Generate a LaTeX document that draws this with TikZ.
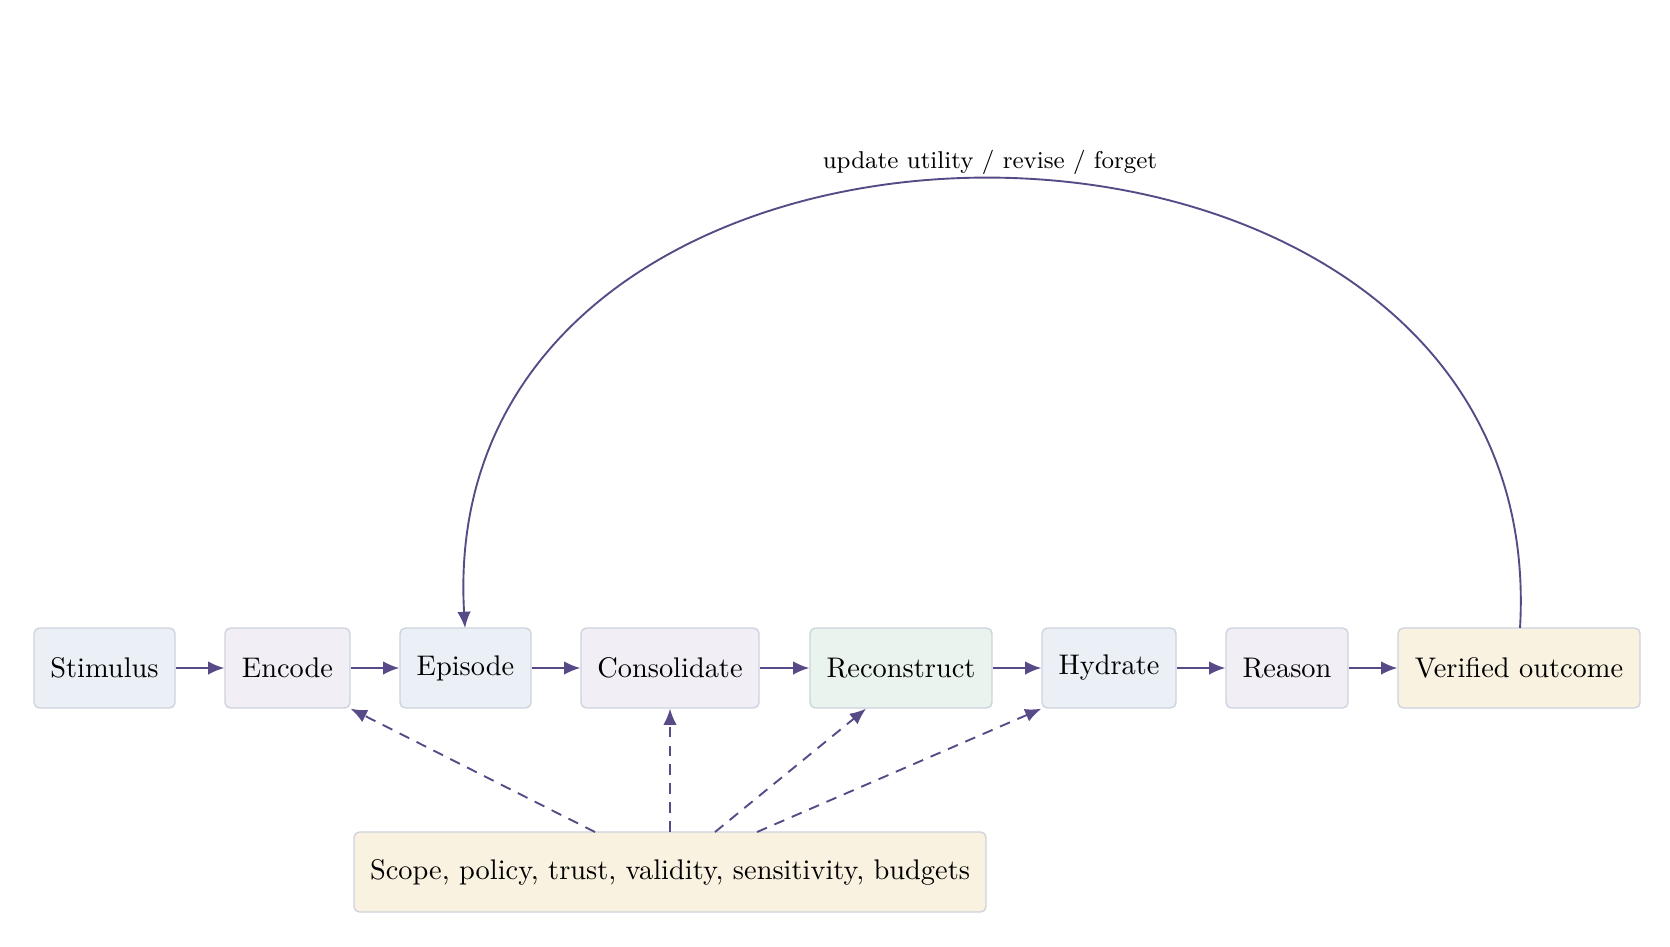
\documentclass[tikz,border=0pt]{standalone}
\usetikzlibrary{arrows.meta,calc}
\definecolor{cblue}{HTML}{EAF0F6}
\definecolor{clav}{HTML}{F1EEF6}
\definecolor{cgreen}{HTML}{EAF4EE}
\definecolor{ccream}{HTML}{FAF2E0}
\definecolor{cborder}{HTML}{CDD3DC}
\definecolor{carrow}{HTML}{574A86}
\begin{document}
\begin{tikzpicture}[x=0.37pt,y=-0.37pt,
  box/.style={draw=cborder,rounded corners=2pt,line width=0.5pt,minimum height=29.6pt,inner sep=0pt,font=\fontsize{10.5}{12}\selectfont},
  arr/.style={carrow,line width=0.7pt,-{Latex[length=6pt,width=5pt]}},
  darr/.style={arr,dash pattern=on 4pt off 3pt}]
\useasboundingbox (0,0) rectangle (1670,946);
\def\bx#1#2#3#4#5{\node[box,fill=#5,minimum width={(#3-#2)*0.37pt}] (#1) at ({(#2+#3)/2},668) {#4};}
\bx{s}{34}{175}{Stimulus}{cblue}
\bx{e}{225}{350}{Encode}{clav}
\bx{ep}{400}{531}{Episode}{cblue}
\bx{c}{581}{759}{Consolidate}{clav}
\bx{r}{810}{992}{Reconstruct}{cgreen}
\bx{h}{1042}{1176}{Hydrate}{cblue}
\bx{re}{1226}{1348}{Reason}{clav}
\bx{v}{1398}{1640}{Verified outcome}{ccream}
\node[box,fill=ccream,minimum width={632*0.37pt}] (b) at (670,872) {Scope, policy, trust, validity, sensitivity, budgets};
\foreach \a/\b in {s/e,e/ep,ep/c,c/r,r/h,h/re,re/v} \draw[arr] (\a) -- (\b);
\coordinate (v1) at (1520,628);
\coordinate (ep1) at (465,628);
\draw[arr] (v1) .. controls (1555,30) and (430,30) .. (ep1);
\node[font=\small] (lbl) at (990,162) {update utility / revise / forget};
\coordinate (b1) at (595,832);
\coordinate (b2) at (670,832);
\coordinate (b3) at (715,832);
\coordinate (b4) at (757,832);
\draw[darr] (b1) -- (e.south east) ;
\draw[darr] (b2) -- (c.south);
\draw[darr] (b3) -- ($(r.south)+(-35,0)$);
\draw[darr] (b4) -- (h.south west);
\end{tikzpicture}
\end{document}
